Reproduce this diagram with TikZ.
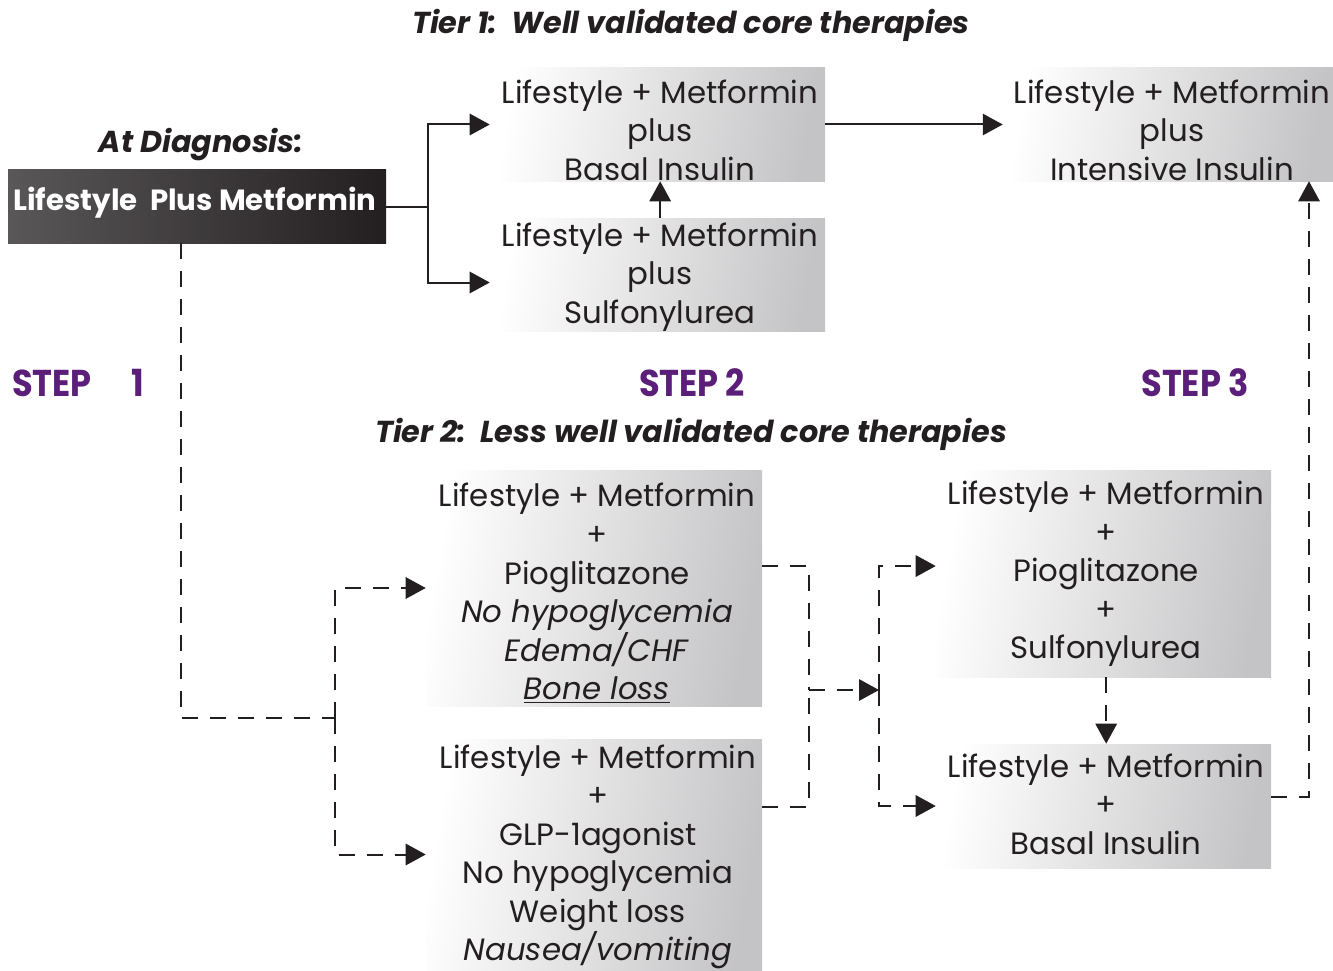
\documentclass[tikz,border=0pt]{standalone}
\usepackage{fontspec}
\setmainfont{Poppins}
\usetikzlibrary{arrows.meta,fit,calc}
\definecolor{ink}{HTML}{231F20}
\definecolor{stepc}{HTML}{5B1F7A}
\definecolor{boxgray}{HTML}{C4C4C6}
\begin{document}
\begin{tikzpicture}[x=0.75pt,y=-0.75pt,
  lbox/.style={inner sep=0pt, draw=none, shading=axis, left color=white, right color=boxgray, shading angle=80},
  dbox/.style={inner sep=0pt, draw=none, left color=ink!75, right color=ink},
  txt/.style={align=center, text=ink, font=\fontsize{23.1}{28.9}\selectfont, inner sep=0pt},
  ttl/.style={text=ink, font=\fontsize{22.7}{26}\selectfont\bfseries\itshape, inner sep=0pt},
  steplbl/.style={text=stepc, font=\fontsize{28}{32}\selectfont\bfseries, inner sep=0pt},
  conn/.style={draw=ink, line width=1.5pt, -{Triangle[length=15pt,width=16pt]}},
  plain/.style={draw=ink, line width=1.5pt},
  dconn/.style={draw=ink, line width=1.5pt, dash pattern=on 12pt off 9pt, -{Triangle[length=15pt,width=16pt]}},
  dplain/.style={draw=ink, line width=1.5pt, dash pattern=on 12pt off 9pt}]
\useasboundingbox (0,0) rectangle (1333,970);
% titles
\node[ttl] (t1) at (691,25) {Tier 1:\ \ Well validated core therapies};
\node[ttl] (t2) at (691,434) {Tier 2:\ \ Less well validated core therapies};
\node[ttl] (ad) at (201,145) {At Diagnosis:};
% step labels
\node[steplbl, anchor=west] (s1) at (12,383) {\scalebox{0.9}[1]{STEP}};
\node[steplbl] (s1n) at (138,383) {\scalebox{0.9}[1]{1}};
\node[steplbl] (s2) at (692,383) {\scalebox{0.9}[1]{STEP 2}};
\node[steplbl] (s3) at (1195,383) {\scalebox{0.9}[1]{STEP 3}};
% boxes
\node[dbox, fit={(8,169) (386,243)}] (dx) {};
\node[text=white, font=\fontsize{21.9}{24}\selectfont\bfseries, inner sep=0pt] (dxt) at (195,203) {Lifestyle\ \ Plus Metformin};
\node[lbox, fit={(490,68) (825,181)}] (A) {};
\node[txt] (At) at (660,130) {Lifestyle + Metformin\\plus\\Basal Insulin};
\node[lbox, fit={(490,218) (825,331)}] (B) {};
\node[txt] (Bt) at (660,277) {Lifestyle + Metformin\\plus\\Sulfonylurea};
\node[lbox, fit={(1003,68) (1333,181)}] (C) {};
\node[txt] (Ct) at (1172,130) {Lifestyle + Metformin\\plus\\Intensive Insulin};
\node[lbox, fit={(426,470) (762,706)}] (D) {};
\node[txt] (Dt) at (597,593) {Lifestyle + Metformin\\+\\Pioglitazone\\\textit{No hypoglycemia}\\\textit{Edema/CHF}\\\textit{\underline{Bone loss}}};
\node[lbox, fit={(426,739) (762,970)}] (E) {};
\node[txt] (Et) at (598,857) {Lifestyle + Metformin\\+\\GLP-1agonist\\No hypoglycemia\\Weight loss\\\textit{Nausea/vomiting}};
\node[lbox, fit={(936,470) (1271,677)}] (F) {};
\node[txt] (Ft) at (1106,574) {Lifestyle + Metformin\\+\\Pioglitazone\\+\\Sulfonylurea};
\node[lbox, fit={(936,744) (1271,868)}] (G) {};
\node[txt] (Gt) at (1106,804) {Lifestyle + Metformin\\+\\Basal Insulin};
% solid connectors
\coordinate (j1) at (428,207);
\draw[plain] (dx.east |- j1) -- (j1);
\draw[conn] (j1) |- (A.west);
\draw[conn] (j1) |- ([yshift=-6pt]B.west);
\draw[conn] ([xshift=2pt]B.north) -- ([xshift=2pt]A.south);
\draw[conn] (A.east) -- (C.west);
% dashed connectors
\coordinate (j2) at (335,718);
\draw[dplain] ([xshift=-12pt]dx.south) |- (j2);
\draw[dconn] (j2) |- (D.west);
\draw[dconn] (j2) |- (E.west);
\coordinate (j3) at (809,690);
\coordinate (j4) at (879,690);
\draw[dplain] ([yshift=16.5pt]D.east) -| (j3);
\draw[dplain] ([yshift=35.6pt]E.east) -| (j3);
\draw[dconn] (j3) -- (j4);
\draw[dconn] (j4) |- ([yshift=5.6pt]F.west);
\draw[dconn] (j4) |- (G.west);
\draw[dconn] ([xshift=2pt]F.south) -- ([xshift=2pt]G.north);
\draw[dconn] ([yshift=6.75pt]G.east) -| ([xshift=105.75pt]C.south);
\end{tikzpicture}
\end{document}
